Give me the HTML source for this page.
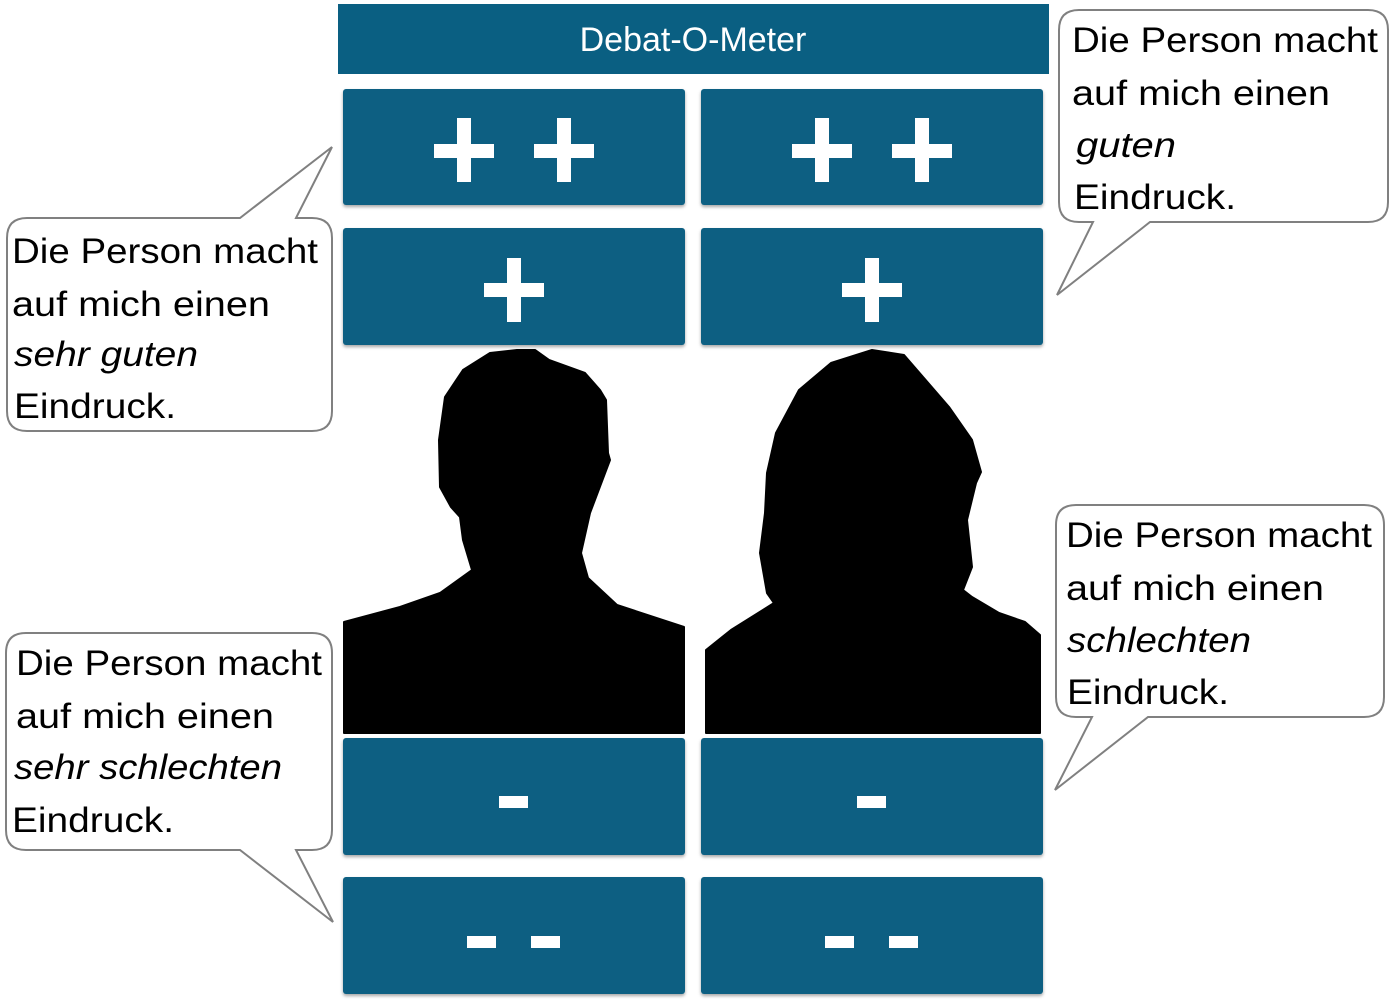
<!DOCTYPE html>
<html><head><meta charset="utf-8"><style>
html,body{margin:0;padding:0;background:#fff;width:1392px;height:1000px;overflow:hidden}
svg{display:block}
.t{font-family:"Liberation Sans",sans-serif;font-size:35px;fill:#000}
.i{font-style:italic}
.b{fill:#0a5f82}
.c{fill:#fff;stroke:#808080;stroke-width:2}
</style></head><body>
<svg width="1392" height="1000" viewBox="0 0 1392 1000">
<defs><filter id="s" x="-5%" y="-5%" width="110%" height="115%"><feDropShadow dx="0" dy="2" stdDeviation="1.5" flood-color="#000" flood-opacity="0.35"/></filter></defs>
<rect x="338" y="4" width="711" height="70" class="b"/>
<text x="693" y="51" text-anchor="middle" font-family="Liberation Sans,sans-serif" font-size="34" fill="#fff">Debat-O-Meter</text>
<g filter="url(#s)">
<rect x="343" y="89" width="342" height="116" rx="3" class="b"/>
<rect x="701" y="89" width="342" height="116" rx="3" class="b"/>
<rect x="343" y="228" width="342" height="117" rx="3" class="b"/>
<rect x="701" y="228" width="342" height="117" rx="3" class="b"/>
<rect x="343" y="738" width="342" height="117" rx="3" class="b"/>
<rect x="701" y="738" width="342" height="117" rx="3" class="b"/>
<rect x="343" y="877" width="342" height="117" rx="3" class="b"/>
<rect x="701" y="877" width="342" height="117" rx="3" class="b"/>
</g>
<g fill="#fff">
<rect x="434" y="144" width="60" height="14"/><rect x="457" y="118" width="14" height="64"/>
<rect x="534" y="144" width="60" height="14"/><rect x="557" y="118" width="14" height="64"/>
<rect x="792" y="144" width="60" height="14"/><rect x="815" y="118" width="14" height="64"/>
<rect x="892" y="144" width="60" height="14"/><rect x="915" y="118" width="14" height="64"/>
<rect x="484" y="283" width="60" height="14"/><rect x="507" y="258" width="14" height="64"/>
<rect x="842" y="283" width="60" height="14"/><rect x="865" y="258" width="14" height="64"/>
<rect x="499" y="796" width="29" height="12"/>
<rect x="857" y="796" width="29" height="12"/>
<rect x="467" y="936" width="29" height="12"/><rect x="531" y="936" width="29" height="12"/>
<rect x="825" y="936" width="29" height="12"/><rect x="889" y="936" width="29" height="12"/>
</g>
<path fill="#000" stroke="#000" stroke-linejoin="round" stroke-width="2" d="M344,622 L400,607 L440,593 L472,570 L463,540 L460,517 L451,507 L440,487 L439,440 L445,397 L463,370 L490,353 L517,350 L535,350 L549,360 L585,373 L600,390 L606,400 L608,453 L610,460 L590,513 L581,553 L588,578 L617,605 L684,627 L684,733 L344,733 Z"/>
<path fill="#000" stroke="#000" stroke-linejoin="round" stroke-width="2" d="M872,350 L904,355 L949,407 L972,440 L981,472 L976,483 L967,520 L972,567 L963,590 L972,597 L999,613 L1025,622 L1040,635 L1040,733 L706,733 L706,650 L731,630 L774,603 L767,593 L760,553 L765,513 L767,473 L776,433 L799,390 L831,363 Z"/>
<path class="c" d="M27,218 L240,218 L332,147 L296,218 L312,218 Q332,218 332,238 L332,411 Q332,431 312,431 L27,431 Q7,431 7,411 L7,238 Q7,218 27,218 Z"/>
<path class="c" d="M1079,10 L1368,10 Q1388,10 1388,30 L1388,202 Q1388,222 1368,222 L1150,222 L1057,295 L1093,222 L1079,222 Q1059,222 1059,202 L1059,30 Q1059,10 1079,10 Z"/>
<path class="c" d="M1076,505 L1364,505 Q1384,505 1384,525 L1384,697 Q1384,717 1364,717 L1148,717 L1055,790 L1092,717 L1076,717 Q1056,717 1056,697 L1056,525 Q1056,505 1076,505 Z"/>
<path class="c" d="M26,633 L312,633 Q332,633 332,653 L332,830 Q332,850 312,850 L296,850 L333,922 L240,850 L26,850 Q6,850 6,830 L6,653 Q6,633 26,633 Z"/>
<g class="t">
<text x="12" y="263" textLength="306" lengthAdjust="spacingAndGlyphs">Die Person macht</text>
<text x="12" y="316" textLength="258" lengthAdjust="spacingAndGlyphs">auf mich einen</text>
<text x="14" y="366" textLength="184" lengthAdjust="spacingAndGlyphs" class="i">sehr guten</text>
<text x="14" y="418" textLength="162" lengthAdjust="spacingAndGlyphs">Eindruck.</text>

<text x="1072" y="52" textLength="306" lengthAdjust="spacingAndGlyphs">Die Person macht</text>
<text x="1072" y="105" textLength="258" lengthAdjust="spacingAndGlyphs">auf mich einen</text>
<text x="1076" y="157" textLength="100" lengthAdjust="spacingAndGlyphs" class="i">guten</text>
<text x="1074" y="209" textLength="162" lengthAdjust="spacingAndGlyphs">Eindruck.</text>

<text x="1066" y="547" textLength="306" lengthAdjust="spacingAndGlyphs">Die Person macht</text>
<text x="1066" y="600" textLength="258" lengthAdjust="spacingAndGlyphs">auf mich einen</text>
<text x="1067" y="652" textLength="184" lengthAdjust="spacingAndGlyphs" class="i">schlechten</text>
<text x="1067" y="704" textLength="162" lengthAdjust="spacingAndGlyphs">Eindruck.</text>

<text x="16" y="675" textLength="306" lengthAdjust="spacingAndGlyphs">Die Person macht</text>
<text x="16" y="728" textLength="258" lengthAdjust="spacingAndGlyphs">auf mich einen</text>
<text x="14" y="779" textLength="268" lengthAdjust="spacingAndGlyphs" class="i">sehr schlechten</text>
<text x="12" y="832" textLength="162" lengthAdjust="spacingAndGlyphs">Eindruck.</text>
</g>
</svg>
</body></html>
